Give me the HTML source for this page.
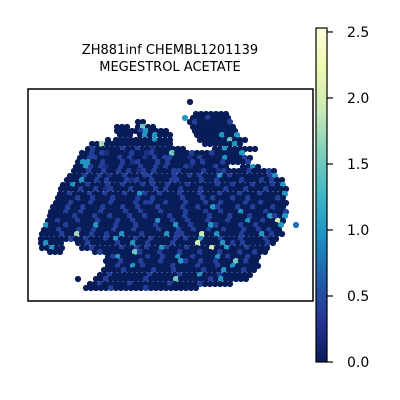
<!DOCTYPE html>
<html><head><meta charset="utf-8">
<style>
html,body{margin:0;padding:0;background:#fff;}
svg{display:block;font-family:"DejaVu Sans","Liberation Sans",sans-serif;}
</style></head>
<body>
<svg id="chart" width="400" height="400" viewBox="0 0 400 400">
  <defs>
    <linearGradient id="cmap" x1="0" y1="1" x2="0" y2="0">
      <stop offset="0" stop-color="#081d58"/>
      <stop offset="0.125" stop-color="#253494"/>
      <stop offset="0.25" stop-color="#225ea8"/>
      <stop offset="0.375" stop-color="#1d91c0"/>
      <stop offset="0.5" stop-color="#41b6c4"/>
      <stop offset="0.625" stop-color="#7fcdbb"/>
      <stop offset="0.75" stop-color="#c7e9b4"/>
      <stop offset="0.875" stop-color="#edf8b1"/>
      <stop offset="1" stop-color="#ffffd9"/>
    </linearGradient>
  </defs>
  <text x="170" y="54" text-anchor="middle" font-size="13">ZH881inf CHEMBL1201139</text>
  <text x="170" y="71" text-anchor="middle" font-size="13">MEGESTROL ACETATE</text>
  <g id="spots"></g>
  <rect x="28" y="89" width="285" height="212" fill="none" stroke="#000" stroke-width="1.5"/>
  <rect x="316" y="28" width="11" height="334" fill="url(#cmap)" stroke="#000" stroke-width="1.2"/>
  <g id="cbticks"></g>
</svg>
<script>
const cbTicks = [0, 0.5, 1.0, 1.5, 2.0, 2.5];
const cbTickLabels = ["0.0", "0.5", "1.0", "1.5", "2.0", "2.5"];
const vmax = 2.53;
const levelValues = [0, 0.22, 0.4, 0.75, 1.0, 1.25, 1.5, 1.75, 2.0, 2.3];
// spot rows: [y, xStart, level codes]
const spotRows = [
 [102,190,"0"],
 [114,196,"0000000"],
 [118,185,"4"],[118,193,"00020000"],
 [122,138,"00"],[122,190,"020000002"],
 [127,117,"000"],[127,138,"0600"],[127,193,"000000000"],
 [131,117,"0000"],[131,136,"0240000"],[131,195,"000000000"],
 [135,120,"000"],[135,140,"0404000"],[135,197,"000004004"],
 [140,108,"0"],[140,116,"00000"],[140,140,"0004000"],[140,200,"0000006000"],
 [144,92,"0070000000000000"],[144,170,"0"],[144,205,"00000040"],
 [149,88,"0200000200200100000"],[149,178,"00"],[149,215,"004000000"],
 [153,82,"002021000020012000600020002000004"],
 [158,80,"00220000202001020220001020000400020"],
 [162,78,"04400200020120002020000202000200002"],
 [167,76,"0042021002000200202000210000200"],[167,243,"0040"],
 [171,74,"00020020020201202000220000200120000200020"],
 [176,70,"000200201002000220000200202000402000000024"],
 [180,67,"00040020200021200200022000020020000200020200"],
 [185,63,"004002000200200020200200020000020020002000204"],
 [189,61,"0000200201200020000202002000200002000200020000"],
 [194,60,"0020002002000200420020002000200020002000200004"],
 [198,58,"0000200200020000200200000200020200020020000020"],
 [203,56,"00020002000200002022002000200020020000200200000"],
 [207,53,"00020020002000200200020000200200420002002000200"],
 [212,51,"000200200020000200200020000200020020004000020002"],
 [216,50,"000002000200200020020000200200002000200020004204"],
 [221,48,"002000200020002002000040020020002000200040020080"],
 [225,46,"400020000040002000200020004002000420000200200004"],[225,296,"3"],
 [230,44,"000200020020002000200002000200200200200020020200"],
 [234,42,"0000200700200200400020000402200080040000200040200"],
 [239,41,"000000200200020400020020000202004000200020000200"],
 [243,41,"04000"],[243,78,"0020000020040020000200008000040202000020"],
 [248,42,"00400"],[248,82,"00200000200202004200020000800400020000"],
 [252,50,"000"],[252,95,"02000000620002000200020002000200200"],
 [257,108,"0240000020020040020000402000200"],
 [261,106,"0002000200020004200200200060200"],
 [266,108,"0020040200000200002000200400000"],
 [270,104,"0000200000200020000020004000200"],
 [275,100,"0020000000200000200040002000000"],
 [279,78,"0"],[279,96,"0020000000200000600000020400000"],
 [284,90,"00200000200000002000002000000"],
 [288,86,"00000200000020000000000"]
];
const stops = [[0,"#081d58"],[0.125,"#253494"],[0.25,"#225ea8"],[0.375,"#1d91c0"],[0.5,"#41b6c4"],[0.625,"#7fcdbb"],[0.75,"#c7e9b4"],[0.875,"#edf8b1"],[1,"#ffffd9"]];
function hex2rgb(h){return [1,3,5].map(i=>parseInt(h.substr(i,2),16));}
function cmap(v){
  let t=Math.max(0,Math.min(1,v/vmax));
  for(let i=1;i<stops.length;i++){
    if(t<=stops[i][0]){
      const a=stops[i-1],b=stops[i],f=(t-a[0])/(b[0]-a[0]);
      const ca=hex2rgb(a[1]),cb=hex2rgb(b[1]);
      return "rgb("+ca.map((c,k)=>Math.round(c+(cb[k]-c)*f)).join(",")+")";
    }
  }
  return stops[stops.length-1][1];
}
const NS="http://www.w3.org/2000/svg";
const g=document.getElementById("spots");
const step=5;
spotRows.forEach(function(row){
  const y=row[0],x0=row[1],codes=row[2];
  for(let i=0;i<codes.length;i++){
    const v=levelValues[+codes[i]];
    const c=document.createElementNS(NS,"circle");
    c.setAttribute("cx",x0+i*step);
    c.setAttribute("cy",y);
    c.setAttribute("r",3.1);
    c.setAttribute("fill",cmap(v));
    
    
    g.appendChild(c);
  }
});
const cy0=362,cy1=28;
function cbY(v){return cy0-(v/vmax)*(cy0-cy1);}
const tg=document.getElementById("cbticks");
cbTicks.forEach(function(v,i){
  const y=cbY(v);
  const l=document.createElementNS(NS,"line");
  l.setAttribute("x1",327);l.setAttribute("x2",333);
  l.setAttribute("y1",y);l.setAttribute("y2",y);
  l.setAttribute("stroke","#000");l.setAttribute("stroke-width","1.2");
  
  
  tg.appendChild(l);
  const t=document.createElementNS(NS,"text");
  t.setAttribute("x",347);t.setAttribute("y",y+5);
  t.setAttribute("font-size","14");
  t.textContent=cbTickLabels[i];
  
  
  tg.appendChild(t);
});
</script>
</body></html>
